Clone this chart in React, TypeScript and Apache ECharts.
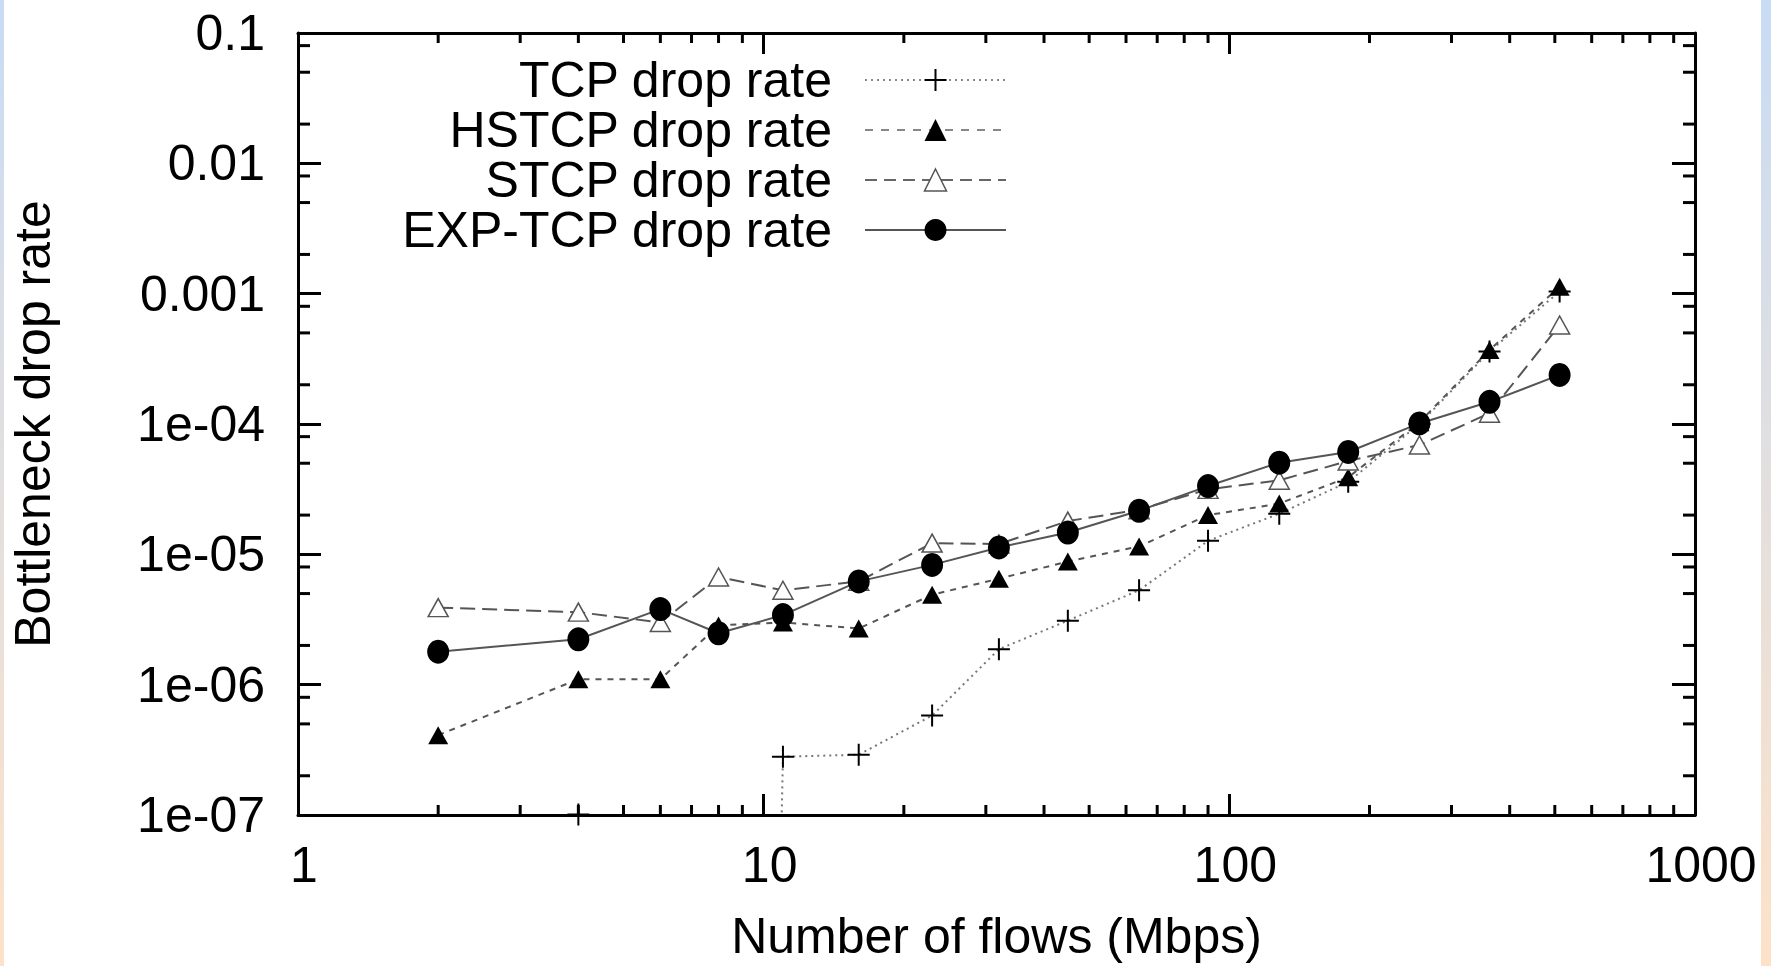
import React, { useEffect, useRef } from 'react';
import * as echarts from 'echarts';

// ---- data ----
const flows = [2, 4, 6, 8, 11, 16, 23, 32, 45, 64, 90, 128, 180, 256, 362, 512];
// TCP: first points are off the bottom of the scale (effectively zero)
const tcpDrop = [1e-30, 1.01e-7, 1e-30, 1e-30, 2.8e-7, 2.9e-7, 5.8e-7, 1.87e-6, 3.1e-6, 5.3e-6, 1.27e-5, 2.05e-5, 3.6e-5, 1.0e-4, 3.6e-4, 1.04e-3];
const hstcpDrop = [4.1e-7, 1.1e-6, 1.1e-6, 2.85e-6, 3.0e-6, 2.7e-6, 4.9e-6, 6.5e-6, 8.8e-6, 1.15e-5, 2.0e-5, 2.45e-5, 3.9e-5, 1.03e-4, 3.7e-4, 1.13e-3];
const stcpDrop = [3.9e-6, 3.6e-6, 3.0e-6, 6.7e-6, 5.3e-6, 6.2e-6, 1.22e-5, 1.2e-5, 1.8e-5, 2.2e-5, 3.15e-5, 3.7e-5, 5.2e-5, 6.9e-5, 1.21e-4, 5.75e-4];
const expDrop = [1.79e-6, 2.23e-6, 3.8e-6, 2.48e-6, 3.42e-6, 6.2e-6, 8.3e-6, 1.13e-5, 1.47e-5, 2.16e-5, 3.34e-5, 5.05e-5, 6.1e-5, 1.01e-4, 1.48e-4, 2.38e-4];

const seriesNames = ['TCP drop rate', 'HSTCP drop rate', 'STCP drop rate', 'EXP-TCP drop rate'];

const xTickLabels = ['1', '10', '100', '1000'];
const yTickLabels = ['1e-07', '1e-06', '1e-05', '1e-04', '0.001', '0.01', '0.1'];

const X_MIN = 1;
const X_MAX = 1000;
const Y_MIN = 1e-7;
const Y_MAX = 0.1;

const xMinorMultipliers = [2, 3, 4, 5, 6, 7, 8, 9];
const xMinorDecades = [1, 10, 100];
const yMinorMultipliers = [2, 5, 8];
const yMinorDecades = [1e-7, 1e-6, 1e-5, 1e-4, 1e-3, 1e-2];

const FONT = "'Liberation Sans', Arial, sans-serif";
const FS = 50;

export default function App() {
  const ref = useRef<HTMLDivElement>(null);

  useEffect(() => {
    if (!ref.current) return;
    const chart = echarts.init(ref.current, null, { renderer: 'svg' });

    const xMinor: number[][] = [];
    xMinorDecades.forEach((d) => xMinorMultipliers.forEach((m) => xMinor.push([m * d, Y_MIN])));
    const yMinor: number[][] = [];
    yMinorDecades.forEach((d) => yMinorMultipliers.forEach((m) => yMinor.push([X_MIN, m * d])));

    const pair = (ys: number[]) => flows.map((x, i) => [x, ys[i]]);

    const tickStyle = { stroke: '#000', lineWidth: 3 };

    const plusPath = 'path://M11,0L11,22M0,11L22,11';

    const baseAxisLine = { show: true, lineStyle: { color: '#000', width: 3 } };

    const xAxisCommon = {
      type: 'log',
      logBase: 10,
      min: X_MIN,
      max: X_MAX,
      axisLine: baseAxisLine,
      axisTick: { show: true, inside: true, length: 21, lineStyle: { color: '#000', width: 3 } },
      splitLine: { show: false },
      minorTick: { show: false },
    };
    const yAxisCommon = {
      type: 'log',
      logBase: 10,
      min: Y_MIN,
      max: Y_MAX,
      axisLine: baseAxisLine,
      axisTick: { show: true, inside: true, length: 23, lineStyle: { color: '#000', width: 3 } },
      splitLine: { show: false },
      minorTick: { show: false },
    };

    const stripFill = () =>
      new echarts.graphic.LinearGradient(0, 0, 0, 1, [
        { offset: 0, color: '#c8dcf5' },
        { offset: 1, color: '#fde2c8' },
      ]);

    const option: any = {
      animation: false,
      backgroundColor: '#fff',
      textStyle: { fontFamily: FONT },
      grid: { left: 295, right: 76, top: 33, bottom: 151, show: false },
      graphic: [
        {
          type: 'rect',
          shape: { x: 0, y: 0, width: 4, height: 966 },
          style: { fill: stripFill() },
          silent: true,
        },
        {
          type: 'rect',
          shape: { x: 1761, y: 0, width: 10, height: 966 },
          style: { fill: stripFill() },
          silent: true,
        },
      ],
      legend: {
        orient: 'vertical',
        align: 'right',
        right: 764,
        top: 55,
        padding: 0,
        itemGap: 0,
        itemWidth: 141,
        itemHeight: 27.5,
        selectedMode: false,
        textStyle: {
          fontFamily: FONT,
          fontSize: FS,
          lineHeight: 44,
          color: '#000',
          padding: [0, 28, 0, 0],
        },
        data: [
          {
            name: seriesNames[0],
            itemStyle: { color: '#000', borderColor: '#000', borderWidth: 2 },
            lineStyle: { color: '#888', width: 2, type: [2, 4] },
          },
          {
            name: seriesNames[1],
            itemStyle: { color: '#000', borderWidth: 0 },
            lineStyle: { color: '#888', width: 2, type: [8, 8] },
          },
          {
            name: seriesNames[2],
            itemStyle: { color: '#fff', borderColor: '#555', borderWidth: 1.5 },
            lineStyle: { color: '#666', width: 2, type: [12, 7] },
          },
          {
            name: seriesNames[3],
            itemStyle: { color: '#000', borderWidth: 0 },
            lineStyle: { color: '#555', width: 2, type: 'solid' },
          },
        ],
      },
      xAxis: [
        {
          ...xAxisCommon,
          position: 'bottom',
          name: 'Number of flows (Mbps)',
          nameLocation: 'middle',
          nameGap: 96,
          nameTextStyle: { fontFamily: FONT, fontSize: FS, color: '#000' },
          axisLabel: {
            show: true,
            margin: 25,
            fontFamily: FONT,
            fontSize: FS,
            color: '#000',
            padding: [0, 0, 0, 12],
            formatter: (v: number) => xTickLabels[Math.round(Math.log10(v))] ?? '',
          },
        },
        {
          ...xAxisCommon,
          position: 'top',
          axisLabel: { show: false },
        },
      ],
      yAxis: [
        {
          ...yAxisCommon,
          position: 'left',
          name: 'Bottleneck drop rate',
          nameLocation: 'middle',
          nameGap: 240,
          nameRotate: 90,
          nameTextStyle: { fontFamily: FONT, fontSize: FS, color: '#000' },
          axisLabel: {
            show: true,
            margin: 33,
            fontFamily: FONT,
            fontSize: FS,
            color: '#000',
            formatter: (v: number) => yTickLabels[Math.round(Math.log10(v)) + 7] ?? '',
          },
        },
        {
          ...yAxisCommon,
          position: 'right',
          axisLabel: { show: false },
        },
      ],
      series: [
        {
          type: 'custom',
          name: 'xMinor',
          silent: true,
          xAxisIndex: 0,
          yAxisIndex: 0,
          data: xMinor,
          renderItem: (_p: any, api: any) => {
            const v = api.value(0);
            const b = api.coord([v, Y_MIN]);
            const t = api.coord([v, Y_MAX]);
            return {
              type: 'group',
              children: [
                { type: 'line', shape: { x1: b[0], y1: b[1], x2: b[0], y2: b[1] - 10 }, style: tickStyle },
                { type: 'line', shape: { x1: t[0], y1: t[1], x2: t[0], y2: t[1] + 10 }, style: tickStyle },
              ],
            };
          },
        },
        {
          type: 'custom',
          name: 'yMinor',
          silent: true,
          xAxisIndex: 0,
          yAxisIndex: 0,
          data: yMinor,
          renderItem: (_p: any, api: any) => {
            const v = api.value(1);
            const l = api.coord([X_MIN, v]);
            const r = api.coord([X_MAX, v]);
            return {
              type: 'group',
              children: [
                { type: 'line', shape: { x1: l[0], y1: l[1], x2: l[0] + 12, y2: l[1] }, style: tickStyle },
                { type: 'line', shape: { x1: r[0], y1: r[1], x2: r[0] - 12, y2: r[1] }, style: tickStyle },
              ],
            };
          },
        },
        {
          type: 'line',
          name: seriesNames[0],
          data: pair(tcpDrop),
          clip: true,
          showAllSymbol: true,
          symbol: plusPath,
          symbolSize: 22,
          itemStyle: { color: '#000', borderColor: '#000', borderWidth: 2 },
          lineStyle: { color: '#777', width: 2, type: [2, 4] },
        },
        {
          type: 'line',
          name: seriesNames[1],
          data: pair(hstcpDrop),
          clip: true,
          showAllSymbol: true,
          symbol: 'triangle',
          symbolSize: [20, 18],
          itemStyle: { color: '#000' },
          lineStyle: { color: '#555', width: 2, type: [6, 6] },
        },
        {
          type: 'line',
          name: seriesNames[2],
          data: pair(stcpDrop),
          clip: true,
          showAllSymbol: true,
          symbol: 'triangle',
          symbolSize: [20, 18],
          itemStyle: { color: '#fff', borderColor: '#555', borderWidth: 1.5 },
          lineStyle: { color: '#555', width: 2, type: [15, 7] },
        },
        {
          type: 'line',
          name: seriesNames[3],
          data: pair(expDrop),
          clip: true,
          showAllSymbol: true,
          symbol: 'circle',
          symbolSize: [22, 24],
          itemStyle: { color: '#000' },
          lineStyle: { color: '#555', width: 2, type: 'solid' },
        },
      ],
    };

    chart.setOption(option);
    return () => chart.dispose();
  }, []);

  return (
    <div
      ref={ref}
      style={{ position: 'fixed', left: 0, top: 0, width: 1771, height: 966, background: '#fff' }}
    />
  );
}
